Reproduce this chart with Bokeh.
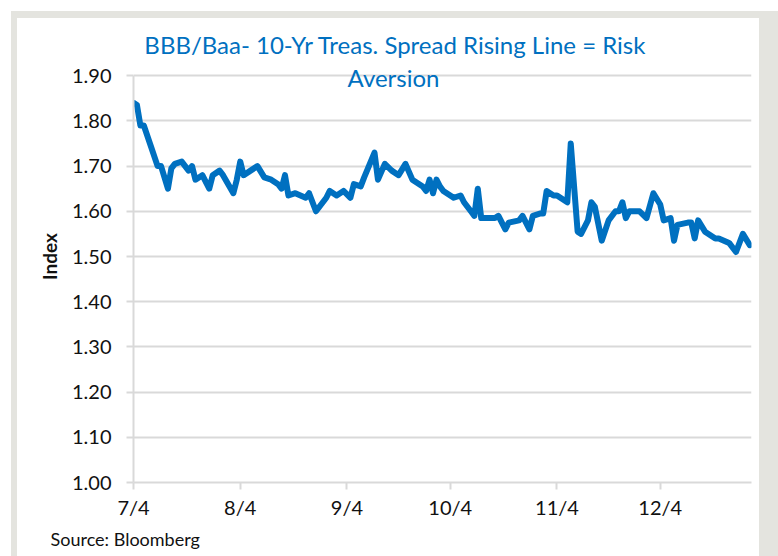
import pandas as pd
from bokeh.plotting import figure
from bokeh.models import (ColumnDataSource, Range1d, FixedTicker, DatetimeTickFormatter,
                          NumeralTickFormatter, Label, Title)
from bokeh.embed import file_html
from bokeh.resources import INLINE

YEAR = "2019"
dates = ["07-04", "07-05", "07-06", "07-07", "07-09", "07-11", "07-12", "07-14", "07-15", "07-16",
         "07-18", "07-20", "07-21", "07-22", "07-24", "07-26", "07-27", "07-29", "07-30", "08-02",
         "08-03", "08-04", "08-05", "08-07", "08-09", "08-11", "08-13", "08-15", "08-16", "08-17",
         "08-18", "08-20", "08-23", "08-24", "08-26", "08-29", "08-30", "09-01", "09-03", "09-05",
         "09-06", "09-08", "09-09", "09-12", "09-13", "09-15", "09-17", "09-19", "09-21", "09-23",
         "09-26", "09-27", "09-28", "09-29", "09-30", "10-01", "10-02", "10-03", "10-05", "10-07",
         "10-08", "10-10", "10-11", "10-12", "10-13", "10-17", "10-18", "10-20", "10-21", "10-24",
         "10-25", "10-27", "10-28", "10-30", "10-31", "11-01", "11-03", "11-04", "11-06", "11-07",
         "11-08", "11-10", "11-11", "11-13", "11-14", "11-15", "11-17", "11-19", "11-21", "11-22",
         "11-23", "11-24", "11-25", "11-28", "11-30", "12-02", "12-04", "12-05", "12-07", "12-08",
         "12-09", "12-12", "12-13", "12-14", "12-15", "12-17", "12-20", "12-21", "12-24", "12-26",
         "12-28", "12-30"]
spread = [1.84, 1.835, 1.79, 1.79, 1.745, 1.70, 1.70, 1.65, 1.695, 1.705,
          1.71, 1.69, 1.70, 1.67, 1.68, 1.65, 1.68, 1.69, 1.68, 1.64,
          1.67, 1.71, 1.68, 1.69, 1.70, 1.675, 1.67, 1.66, 1.65, 1.68,
          1.635, 1.64, 1.63, 1.64, 1.60, 1.63, 1.645, 1.635, 1.645, 1.63,
          1.66, 1.655, 1.675, 1.73, 1.67, 1.705, 1.69, 1.68, 1.705, 1.67,
          1.655, 1.645, 1.67, 1.64, 1.67, 1.655, 1.645, 1.64, 1.63, 1.635,
          1.62, 1.60, 1.59, 1.65, 1.585, 1.585, 1.59, 1.56, 1.575, 1.58,
          1.59, 1.56, 1.59, 1.595, 1.595, 1.645, 1.635, 1.635, 1.625, 1.62,
          1.75, 1.555, 1.55, 1.58, 1.62, 1.61, 1.535, 1.58, 1.60, 1.60,
          1.62, 1.585, 1.60, 1.60, 1.585, 1.64, 1.615, 1.58, 1.585, 1.535,
          1.57, 1.575, 1.575, 1.54, 1.58, 1.555, 1.54, 1.54, 1.53, 1.51,
          1.55, 1.525]
tick_dates = ["07-04", "08-04", "09-04", "10-04", "11-04", "12-04"]
y_ticks = [1.00, 1.10, 1.20, 1.30, 1.40, 1.50, 1.60, 1.70, 1.80, 1.90]
x_start, x_end = "2019-07-04", "2019-12-30 12:00"
title_lines = ["BBB/Baa- 10-Yr Treas. Spread Rising Line = Risk", "Aversion"]
source_text = "Source: Bloomberg"
y_label = "Index"

W, H = 742, 538
FONT = "Lato"
BLUE = "#0070C0"
GRID = "#D9D9D9"
FRAME = "#E4E4DF"
TXT = "#111111"

x = pd.to_datetime([f"{YEAR}-{d}" for d in dates])
src = ColumnDataSource(dict(x=x, y=spread))

p = figure(width=W, height=H, output_backend="svg", toolbar_location=None,
           x_axis_type="datetime",
           x_range=Range1d(pd.Timestamp(x_start), pd.Timestamp(x_end)),
           y_range=Range1d(1.0, 2.0),
           min_border_left=116, min_border_right=8, min_border_top=12, min_border_bottom=74)
shadow = ", ".join(f"{dx}px {dy}px 0px 0px {FRAME}" for dx, dy in
                   [(-6, -7), (-6, 0), (19, -7), (19, 0)])
p.styles = {"margin": "18px 0px 0px 17px", "box-shadow": shadow}
p.background_fill_color = "white"
p.border_fill_color = "white"
p.outline_line_color = None

p.line("x", "y", source=src, line_color=BLUE, line_width=6, line_join="round", line_cap="round")

tick_ms = [pd.Timestamp(f"{YEAR}-{d}").value // 10**6 for d in tick_dates]
p.xaxis.ticker = FixedTicker(ticks=tick_ms)
p.xaxis.formatter = DatetimeTickFormatter(days="%-m/%-d", months="%-m/%-d")
p.yaxis.ticker = FixedTicker(ticks=y_ticks)
p.yaxis.formatter = NumeralTickFormatter(format="0.00")
p.yaxis.bounds = (y_ticks[0], y_ticks[-1])

for ax in (p.xaxis[0], p.yaxis[0]):
    ax.axis_line_color = GRID
    ax.axis_line_width = 2
    ax.major_tick_line_color = GRID
    ax.major_tick_line_width = 2
    ax.major_tick_out = 7
    ax.major_tick_in = 0
    ax.minor_tick_line_color = None
    ax.major_label_text_font = FONT
    ax.major_label_text_font_size = "20px"
    ax.major_label_text_color = TXT
p.yaxis.major_label_standoff = 15
p.xaxis.major_label_standoff = 5
p.yaxis.axis_label = y_label
p.yaxis.axis_label_text_font = FONT
p.yaxis.axis_label_text_font_style = "bold"
p.yaxis.axis_label_text_font_size = "19px"
p.yaxis.axis_label_text_color = TXT
p.yaxis.axis_label_standoff = 8

p.xgrid.grid_line_color = None
p.ygrid.grid_line_color = GRID
p.ygrid.grid_line_width = 2

for txt, xx, yy in zip(title_lines, [378, 376], [26, 59]):
    p.add_layout(Label(x=xx, y=yy, x_units="canvas", y_units="canvas", text=txt,
                       text_font=FONT, text_font_size="24px", text_color=BLUE,
                       text_align="center", text_baseline="middle"))

p.add_layout(Title(text=source_text, align="left", offset=-83, standoff=8,
                   text_font=FONT, text_font_size="18px", text_font_style="normal",
                   text_color=TXT), "below")

open("out.html", "w").write(file_html(p, INLINE))
